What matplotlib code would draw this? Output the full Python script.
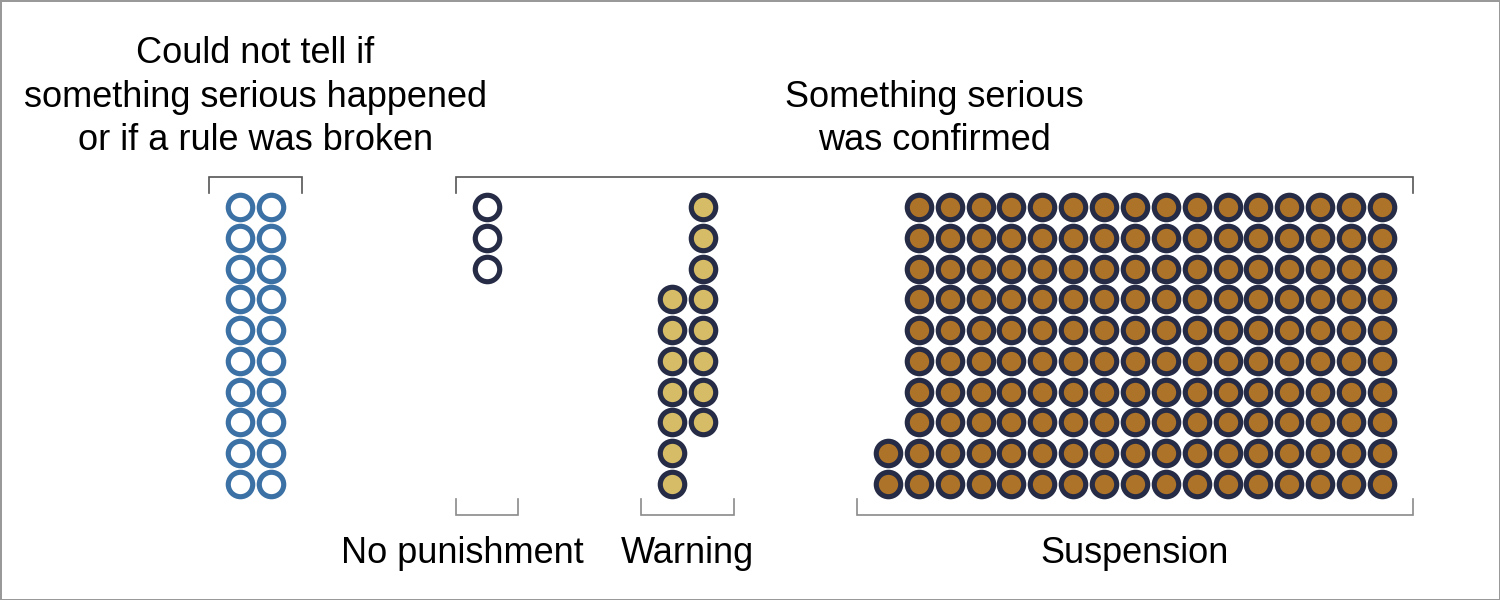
import matplotlib
matplotlib.use('Agg')
import matplotlib.pyplot as plt

plt.rcParams['font.family'] = ['Liberation Sans', 'DejaVu Sans']

# each group: first column on the grid, then one (first row, dot count) per column
unclear_start = 0
unclear_stacks = [(0, 10), (0, 10)]
none_start = 8
none_stacks = [(0, 3)]
warning_start = 14
warning_stacks = [(3, 7), (0, 8)]
susp_start = 21
susp_stacks = [(8, 2)] + [(0, 10)] * 16

group_labels = ['No punishment', 'Warning', 'Suspension']
label_shift = [-0.78, 0, 0]   # "No punishment" nudged left so it clears "Warning"
top_unclear = 'Could not tell if\nsomething serious happened\nor if a rule was broken'
top_confirmed = 'Something serious\nwas confirmed'

BLUE = '#3b71a5'
NAVY = '#262b46'
GOLD = '#d6bc67'
BROWN = '#ad7328'

MS = 17.6
MEW = 3.7
FS = 26


def dot_positions(start, stacks):
    xs, ys = [], []
    for i, (r0, n) in enumerate(stacks):
        for r in range(r0, r0 + n):
            xs.append(start + i)
            ys.append(r)
    return xs, ys


fig = plt.figure(figsize=(15, 6), dpi=100, edgecolor='#999999', linewidth=2)
ax = fig.add_axes([0, 0, 1, 1])
ax.set_xlim(-7.777, 40.83)
ax.set_ylim(12.768, -6.725)
ax.axis('off')

groups = [
    (unclear_start, unclear_stacks, 'white', BLUE),
    (none_start, none_stacks, 'white', NAVY),
    (warning_start, warning_stacks, GOLD, NAVY),
    (susp_start, susp_stacks, BROWN, NAVY),
]
for start, stacks, face, edge in groups:
    xs, ys = dot_positions(start, stacks)
    ax.plot(xs, ys, 'o', ms=MS, mew=MEW, mfc=face, mec=edge, ls='none')


def bracket(x0, x1, y, tip, color):
    ax.plot([x0, x0, x1, x1], [y + tip, y, y, y + tip], color=color, lw=1.2,
            solid_joinstyle='miter')


# top brackets
u_end = unclear_start + len(unclear_stacks) - 1
s_end = susp_start + len(susp_stacks) - 1
bracket(unclear_start - 1, u_end + 1, -0.97, 0.5, '#555555')
bracket(none_start - 1, s_end + 1, -0.97, 0.5, '#555555')

ax.text((unclear_start + u_end) / 2, -1.58, top_unclear, ha='center', va='bottom',
        fontsize=FS, linespacing=1.32)
ax.text((none_start + s_end) / 2, -1.58, top_confirmed, ha='center', va='bottom',
        fontsize=FS, linespacing=1.32)

# bottom brackets and labels
for (start, stacks), lab, dx in zip([(none_start, none_stacks),
                                     (warning_start, warning_stacks),
                                     (susp_start, susp_stacks)],
                                    group_labels, label_shift):
    end = start + len(stacks) - 1
    bracket(start - 1, end + 1, 10.0, -0.5, '#8a8a8a')
    ax.text((start + end) / 2 + dx, 11.25, lab, ha='center', va='center', fontsize=FS)

fig.savefig('out.png', dpi=100)
